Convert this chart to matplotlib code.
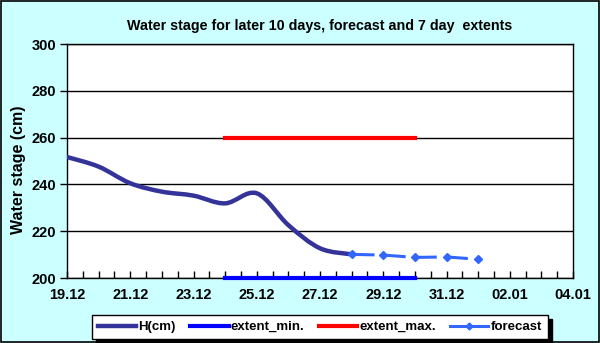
import matplotlib
matplotlib.use("Agg")
import matplotlib.pyplot as plt
import matplotlib.dates as mdates
from matplotlib.path import Path
from matplotlib.patches import PathPatch
from matplotlib.lines import Line2D
from datetime import datetime, timedelta

plt.rcParams['font.family'] = ['Liberation Sans', 'DejaVu Sans']
plt.rcParams['font.weight'] = 'bold'

# observed water stage, one value per day
h_dates = ["19.12.2012", "20.12.2012", "21.12.2012", "22.12.2012", "23.12.2012",
           "24.12.2012", "25.12.2012", "26.12.2012", "27.12.2012", "28.12.2012"]
h_cm = [251.7, 247.6, 240.5, 236.9, 235.2, 231.9, 236.2, 222.6, 212.7, 210.1]

fc_dates = ["28.12.2012", "29.12.2012", "30.12.2012", "31.12.2012", "01.01.2013"]
fc_cm = [210.1, 209.8, 208.8, 209.0, 208.0]

ext_dates = ["24.12.2012", "30.12.2012"]
ext_min = [200, 200]
ext_max = [260, 260]

x_start, x_end = "19.12.2012", "04.01.2013"


def to_num(days):
    return [mdates.date2num(datetime.strptime(d, "%d.%m.%Y")) for d in days]


fig = plt.figure(figsize=(6, 3.43), dpi=100, facecolor='#ccffff')
fig.patches.append(plt.Rectangle((0.001, 0.002), 0.997, 0.995, transform=fig.transFigure,
                                 fill=False, edgecolor='black', lw=1.2))
ax = fig.add_axes([67 / 600, 1 - 278 / 343, 506 / 600, 234 / 343])
ax.set_facecolor('white')

# smooth line (Excel-like bezier through the points)
hx = to_num(h_dates)
pts = list(zip(hx, h_cm))
verts = [pts[0]]
codes = [Path.MOVETO]
for i in range(len(pts) - 1):
    p0 = pts[max(i - 1, 0)]
    p1 = pts[i]
    p2 = pts[i + 1]
    p3 = pts[min(i + 2, len(pts) - 1)]
    c1 = (p1[0] + (p2[0] - p0[0]) / 6, p1[1] + (p2[1] - p0[1]) / 6)
    c2 = (p2[0] - (p3[0] - p1[0]) / 6, p2[1] - (p3[1] - p1[1]) / 6)
    verts += [c1, c2, p2]
    codes += [Path.CURVE4] * 3
ax.add_patch(PathPatch(Path(verts, codes), facecolor='none', edgecolor='#333399',
                       lw=3.2, capstyle='round', zorder=4))

ax.plot(to_num(ext_dates), ext_min, color='#0000ff', lw=3, zorder=3, clip_on=False)
ax.plot(to_num(ext_dates), ext_max, color='#ff0000', lw=3, zorder=3)
ax.plot(to_num(fc_dates), fc_cm, color='#3366ff', lw=2.2, dashes=(7.5, 2.7),
        marker='D', markersize=4, zorder=5)

ax.set_xlim(to_num([x_start])[0], to_num([x_end])[0])
ax.set_ylim(200, 300)
ax.set_yticks(range(200, 301, 20))
ax.yaxis.grid(True, color='black', lw=1)
ax.set_axisbelow(True)

x0 = datetime.strptime(x_start, "%d.%m.%Y")
major = [mdates.date2num(x0 + timedelta(days=2 * k)) for k in range(9)]
minor = [mdates.date2num(x0 + timedelta(hours=12 * k)) for k in range(33)]
ax.set_xticks(major)
ax.set_xticks(minor, minor=True)
ax.xaxis.set_major_formatter(mdates.DateFormatter('%d.%m'))
ax.tick_params(axis='x', which='both', direction='in', length=5, width=1, pad=7)
ax.tick_params(axis='y', length=5, width=1, direction='out', pad=3)
ax.tick_params(labelsize=10.5)
for s in ax.spines.values():
    s.set_linewidth(1)

fig.text(320 / 600, 1 - 26 / 343, "Water stage for later 10 days, forecast and 7 day  extents",
         fontsize=10.3, fontweight='bold', ha='center', va='center')
ax.set_ylabel("Water stage (cm)", fontsize=11.5, fontweight='bold')
ax.yaxis.set_label_coords(-41 / 506, 1 - (170 - 44) / 234)

handles = [
    Line2D([], [], color='#333399', lw=3.2),
    Line2D([], [], color='#0000ff', lw=3),
    Line2D([], [], color='#ff0000', lw=3),
    Line2D([], [], color='#3366ff', lw=2.2, marker='D', markersize=3.5),
]
labels = ["H(cm)", "extent_min.", "extent_max.", "forecast"]
leg = fig.legend(handles, labels, loc='center', bbox_to_anchor=(320 / 600, 1 - 327 / 343),
                 ncol=4, fontsize=9.5, frameon=True, fancybox=False, handlelength=2.9,
                 handletextpad=0.15, columnspacing=1.1, borderpad=0.45,
                 shadow={'color': 'black', 'alpha': 1, 'ox': 3, 'oy': -3})
leg.get_frame().set_edgecolor('black')
leg.get_frame().set_linewidth(1)

fig.savefig("out.png", dpi=100, facecolor=fig.get_facecolor())
